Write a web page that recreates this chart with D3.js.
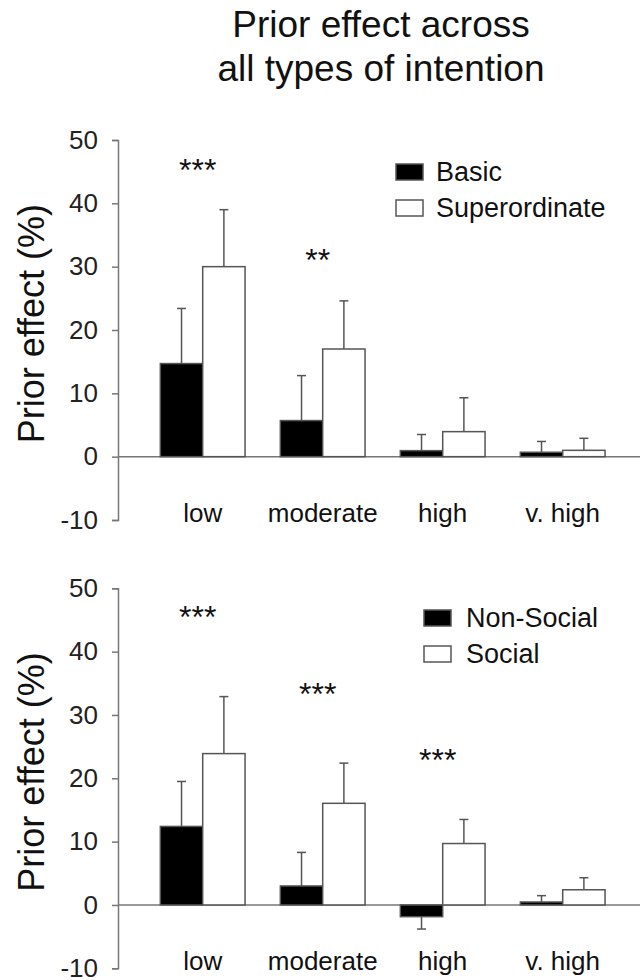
<!DOCTYPE html>
<html>
<head>
<meta charset="utf-8">
<script src="https://cdn.jsdelivr.net/npm/d3@7"></script>
<style>
  body { margin: 0; background: #fff; }
  text { font-family: Arial, "Liberation Sans", Helvetica, sans-serif; fill: #111; }
  .axis path, .axis line { stroke: #777; stroke-width: 1.5; }
  .axis text { font-size: 26px; fill: #222; }
</style>
</head>
<body>
<svg id="chart" width="640" height="980"></svg>
<script>
// categories + tick labels
const categories = ["low", "moderate", "high", "v. high"];
const yTicks = [-10, 0, 10, 20, 30, 40, 50];

// top panel: basic vs superordinate
const topSeries = ["Basic", "Superordinate"];
const basicMean = [14.7, 5.7, 0.95, 0.7];
const basicErr = [8.7, 7.1, 2.55, 1.7];
const superMean = [30.0, 17.0, 3.95, 1.0];
const superErr = [9.0, 7.6, 5.35, 1.9];
const topStars = ["***", "**", "", ""];
const topStarLevel = [43.5, 29.3, null, null];

// bottom panel: non-social vs social
const bottomSeries = ["Non-Social", "Social"];
const nonSocialMean = [12.4, 3.0, -1.85, 0.47];
const nonSocialErr = [7.1, 5.3, 1.95, 1.0];
const socialMean = [23.9, 16.05, 9.7, 2.4];
const socialErr = [9.0, 6.35, 3.8, 1.9];
const bottomStars = ["***", "***", "***", ""];
const bottomStarLevel = [43.7, 31.6, 21.1, null];

const svg = d3.select("#chart");
const fills = ["#000", "#fff"];

svg.append("text")
  .attr("x", 381).attr("y", 37)
  .attr("text-anchor", "middle")
  .style("font-size", "37px")
  .text("Prior effect across");
svg.append("text")
  .attr("x", 381).attr("y", 81)
  .attr("text-anchor", "middle")
  .style("font-size", "37px")
  .text("all types of intention");

function drawPanel(opts) {
  const x = d3.scaleBand()
    .domain(categories)
    .range([142.7, 622.7])
    .paddingInner(0.294)
    .paddingOuter(0.147);
  const xs = d3.scaleBand()
    .domain(opts.series)
    .range([0, x.bandwidth()]);
  const y = d3.scaleLinear()
    .domain([-10, 50])
    .range(opts.yRange);

  const g = svg.append("g");

  g.append("g")
    .attr("class", "axis")
    .attr("transform", "translate(118,0)")
    .call(d3.axisLeft(y).tickValues(yTicks).tickFormat(d => String(d))
      .tickSize(6).tickPadding(14));

  // zero line
  g.append("line")
    .attr("x1", 118).attr("x2", 640)
    .attr("y1", y(0)).attr("y2", y(0))
    .attr("stroke", "#777").attr("stroke-width", 1.5);

  const rows = [];
  opts.series.forEach((s, si) => {
    categories.forEach((c, ci) => {
      rows.push({cat: c, series: s, si: si, mean: opts.means[si][ci], err: opts.errs[si][ci]});
    });
  });

  // error bars (one-sided, away from zero)
  const eb = g.append("g").selectAll("g").data(rows).join("g")
    .attr("transform", d => "translate(" + (x(d.cat) + xs(d.series) + xs.bandwidth() / 2) + ",0)");
  eb.append("line")
    .attr("y1", d => y(d.mean))
    .attr("y2", d => y(d.mean + Math.sign(d.mean) * d.err))
    .attr("stroke", "#555").attr("stroke-width", 1.5);
  eb.append("line")
    .attr("x1", -4.5).attr("x2", 4.5)
    .attr("y1", d => y(d.mean + Math.sign(d.mean) * d.err))
    .attr("y2", d => y(d.mean + Math.sign(d.mean) * d.err))
    .attr("stroke", "#555").attr("stroke-width", 1.5);

  g.append("g").selectAll("rect").data(rows).join("rect")
    .attr("x", d => x(d.cat) + xs(d.series))
    .attr("width", xs.bandwidth())
    .attr("y", d => y(Math.max(0, d.mean)))
    .attr("height", d => Math.abs(y(d.mean) - y(0)))
    .attr("fill", d => fills[d.si])
    .attr("stroke", "#555").attr("stroke-width", 1.5);

  // category labels
  g.append("g").selectAll("text").data(categories).join("text")
    .attr("x", d => x(d) + x.bandwidth() / 2)
    .attr("y", y(0) + 65)
    .attr("text-anchor", "middle")
    .style("font-size", "26px")
    .text(d => d);

  // significance stars
  g.append("g").selectAll("text")
    .data(categories.map((c, i) => ({cat: c, t: opts.stars[i], lvl: opts.starLevel[i]})).filter(d => d.t))
    .join("text")
    .attr("x", d => x(d.cat) + x.bandwidth() / 2 - 5)
    .attr("y", d => y(d.lvl))
    .attr("text-anchor", "middle")
    .style("font-size", "32px")
    .text(d => d.t);

  // y label
  const midY = y(21);
  g.append("text")
    .attr("transform", "translate(44," + midY + ") rotate(-90)")
    .attr("text-anchor", "middle")
    .style("font-size", "36px")
    .text("Prior effect (%)");

  // legend
  const lg = g.append("g").selectAll("g").data(opts.series).join("g")
    .attr("transform", (d, i) => "translate(" + opts.legendX + "," + (opts.legendY + i * 36) + ")");
  lg.append("rect")
    .attr("x", 0).attr("y", -17)
    .attr("width", 27).attr("height", 16)
    .attr("fill", (d, i) => fills[i])
    .attr("stroke", "#555").attr("stroke-width", 1.5);
  lg.append("text")
    .attr("x", opts.legendTextDx).attr("y", 0)
    .style("font-size", "27px")
    .text(d => d);
}

drawPanel({
  series: topSeries,
  means: [basicMean, superMean],
  errs: [basicErr, superErr],
  stars: topStars,
  starLevel: topStarLevel,
  yRange: [520, 140],
  legendX: 396, legendY: 181, legendTextDx: 40
});

drawPanel({
  series: bottomSeries,
  means: [nonSocialMean, socialMean],
  errs: [nonSocialErr, socialErr],
  stars: bottomStars,
  starLevel: bottomStarLevel,
  yRange: [968.3, 588.3],
  legendX: 424, legendY: 627, legendTextDx: 42
});
</script>
</body>
</html>
